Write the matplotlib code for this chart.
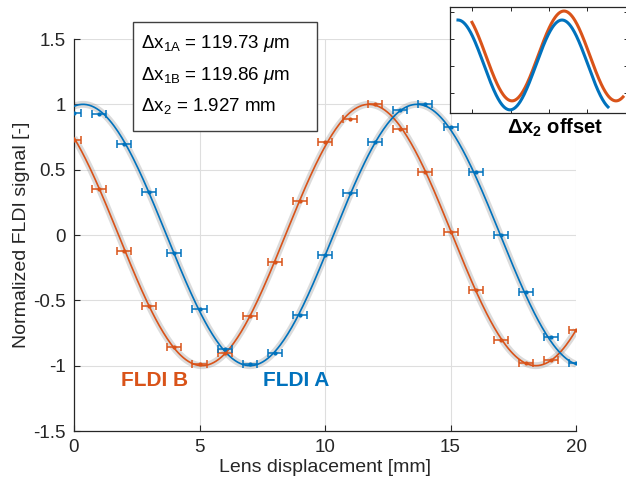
import numpy as np
import matplotlib.pyplot as plt

x_pos = [0, 1, 2, 3, 4, 5, 6, 7, 8, 9, 10, 11, 12, 13, 14, 15, 16, 17, 18, 19, 20]
sig_a = [0.93, 0.925, 0.70, 0.33, -0.14, -0.57, -0.87, -0.99, -0.90, -0.61, -0.15,
         0.32, 0.71, 0.96, 1.00, 0.83, 0.48, 0.00, -0.44, -0.78, -0.98]
sig_b = [0.73, 0.35, -0.12, -0.54, -0.86, -0.99, -0.90, -0.62, -0.21, 0.26, 0.71,
         0.89, 1.00, 0.81, 0.48, 0.025, -0.42, -0.80, -0.98, -0.96, -0.73]
x_err = 0.28  # mm

# cosine fit parameters (period and peak position, mm)
period = 13.3
peak_a = 0.36
peak_b = 11.75

c_a = '#0072BD'
c_b = '#D95319'
dark = '#262626'

plt.rcParams['font.family'] = ['Liberation Sans', 'DejaVu Sans']
plt.rcParams['mathtext.fontset'] = 'custom'
plt.rcParams['mathtext.rm'] = 'Liberation Sans'
plt.rcParams['mathtext.it'] = 'Liberation Sans:italic'
plt.rcParams['mathtext.bf'] = 'Liberation Sans:bold'

fig = plt.figure(figsize=(6.26, 4.9), dpi=100)
ax = fig.add_axes([0.1182, 0.1204, 0.802, 0.80])

xf = np.linspace(0, 20, 400)
fit_a = np.cos(2 * np.pi * (xf - peak_a) / period)
fit_b = np.cos(2 * np.pi * (xf - peak_b) / period)

# grey confidence shadow
ax.plot(xf, fit_b, color='#9a9a9a', lw=5, alpha=0.35, zorder=2, solid_capstyle='butt')
ax.plot(xf, fit_a, color='#9a9a9a', lw=5, alpha=0.35, zorder=2, solid_capstyle='butt')
ax.plot(xf, fit_b, color=c_b, lw=1.2, zorder=3)
ax.plot(xf, fit_a, color=c_a, lw=1.2, zorder=3)

ax.errorbar(x_pos, sig_b, xerr=x_err, fmt='.', color=c_b, ms=4, elinewidth=1.1,
            capsize=3.2, capthick=1.1, zorder=4)
ax.errorbar(x_pos, sig_a, xerr=x_err, fmt='.', color=c_a, ms=4, elinewidth=1.1,
            capsize=3.2, capthick=1.1, zorder=4)

ax.set_xlim(0, 20)
ax.set_ylim(-1.5, 1.5)
ax.set_xticks([0, 5, 10, 15, 20])
ax.set_xticklabels(['0', '5', '10', '15', '20'])
ax.set_yticks([-1.5, -1, -0.5, 0, 0.5, 1, 1.5])
ax.set_yticklabels(['-1.5', '-1', '-0.5', '0', '0.5', '1', '1.5'])
ax.tick_params(direction='in', length=4, width=0.8, colors=dark, labelsize=13.5, pad=6)
for s in ['top', 'right']:
    ax.spines[s].set_visible(False)
for s in ['left', 'bottom']:
    ax.spines[s].set_color(dark)
    ax.spines[s].set_linewidth(0.9)
ax.grid(True, color='#dedede', lw=0.8)
ax.set_axisbelow(True)

ax.set_xlabel('Lens displacement [mm]', fontsize=14, color=dark, labelpad=2)
ax.set_ylabel('Normalized FLDI signal [-]', fontsize=14, color=dark, labelpad=2)

ax.text(3.2, -1.11, 'FLDI B', color=c_b, fontsize=15, fontweight='bold',
        ha='center', va='center')
ax.text(8.85, -1.11, 'FLDI A', color=c_a, fontsize=15, fontweight='bold',
        ha='center', va='center')

# annotation box
fig.patches.append(plt.Rectangle((133 / 626, 1 - 131 / 490), (317 - 133) / 626,
                                 (131 - 22) / 490, transform=fig.transFigure,
                                 facecolor='white', edgecolor='#404040', lw=1.0, zorder=5))
lines = [r'$\Delta$x$_{\mathrm{1A}}$ = 119.73 $\mu$m',
         r'$\Delta$x$_{\mathrm{1B}}$ = 119.86 $\mu$m',
         r'$\Delta$x$_{\mathrm{2}}$ = 1.927 mm']
for i, t in enumerate(lines):
    fig.text(141 / 626, 1 - (44 + 31 * i) / 490, t, fontsize=13.5, color='black',
             va='center', ha='left', zorder=6)

# inset sketch of the offset
ins = fig.add_axes([450 / 626, 1 - 113 / 490, 178 / 626, 106 / 490])
ins_period = 104
u_a = np.linspace(8, 158, 300)
u_b = np.linspace(22, 173, 300)
ins.plot(u_b, np.cos(2 * np.pi * (u_b - 10) / ins_period) + 0.2, color=c_b, lw=2.2)
ins.plot(u_a, np.cos(2 * np.pi * (u_a - 8) / ins_period), color=c_a, lw=2.2)
ins.set_xlim(0, 178)
ins.set_ylim(-1.07, 1.29)
ins.set_xticks([22, 61, 99, 137, 176])
ins.set_yticks([-0.62, -0.02, 0.58, 1.18])
ins.tick_params(direction='in', length=3, width=0.7, colors=dark,
                labelbottom=False, labelleft=False, top=True, right=True)
for s in ins.spines.values():
    s.set_color(dark)
    s.set_linewidth(0.9)
fig.text(555 / 626, 1 - 128 / 490, r'$\mathbf{\Delta x_2}$ offset', fontsize=14.5,
         fontweight='bold', ha='center', va='center', color='black')

fig.savefig('out.png', dpi=100, facecolor='white')
